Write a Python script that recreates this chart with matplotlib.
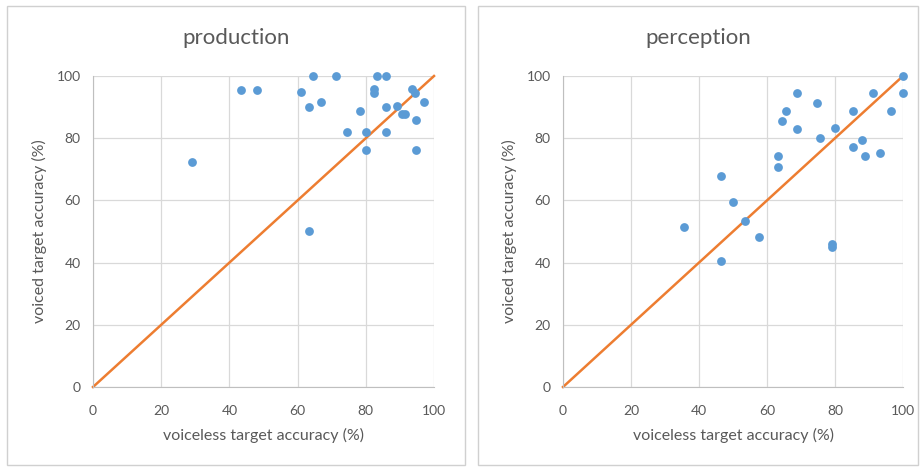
import matplotlib.pyplot as plt
from matplotlib.patches import Rectangle

# production panel: voiceless (x) vs voiced (y) accuracy, %
prod_voiceless = [64.6, 71.4, 83.4, 85.9, 43.4, 48.0, 61.0, 63.4, 66.9, 82.4,
                  82.4, 93.6, 94.4, 97.1, 78.3, 85.9, 89.2, 90.5, 91.5, 94.7,
                  74.6, 80.1, 85.8, 80.1, 94.7, 29.1, 63.4]
prod_voiced = [100, 100, 100, 100, 95.5, 95.5, 94.7, 90.1, 91.7, 95.7,
               94.4, 95.7, 94.6, 91.7, 88.8, 90.1, 90.5, 87.8, 87.8, 85.9,
               82.1, 82.1, 82.1, 76.2, 76.2, 72.4, 50.2]

# perception panel
perc_voiceless = [100, 100, 68.7, 91.1, 74.6, 65.6, 85.4, 96.5, 64.3, 68.7,
                  80.0, 75.6, 87.9, 85.4, 88.8, 93.2, 63.3, 63.3, 46.5, 49.9,
                  53.5, 35.6, 57.6, 79.0, 79.0, 46.5]
perc_voiced = [100, 94.4, 94.6, 94.6, 91.2, 88.8, 88.8, 88.8, 85.6, 82.8,
               83.2, 80.0, 79.4, 77.1, 74.4, 75.1, 74.4, 70.6, 67.8, 59.4,
               53.4, 51.5, 48.3, 46.0, 45.1, 40.5]

ticks = [0, 20, 40, 60, 80, 100]

W, H = 922, 468
BLUE = '#5B9BD5'
ORANGE = '#ED7D31'
GRID = '#D9D9D9'
TXT = '#595959'

plt.rcParams['font.family'] = ['Lato', 'DejaVu Sans']

fig = plt.figure(figsize=(W / 100, H / 100), dpi=100)


def px_box(x0, y0, x1, y1):
    # pixel box (top-left origin) -> figure fraction [l, b, w, h]
    return [x0 / W, 1 - y1 / H, (x1 - x0) / W, (y1 - y0) / H]


def draw_panel(frame, plot, title, xs, ys):
    l, b, w, h = px_box(*frame)
    fig.add_artist(Rectangle((l, b), w, h, transform=fig.transFigure,
                             fill=False, edgecolor='#D0D0D0', linewidth=1))
    ax = fig.add_axes(px_box(*plot))
    ax.set_xlim(0, 100)
    ax.set_ylim(0, 100)
    ax.set_xticks(ticks)
    ax.set_yticks(ticks)
    ax.grid(True, color=GRID, linewidth=0.9)
    ax.set_axisbelow(True)
    for side in ['top', 'right']:
        ax.spines[side].set_visible(False)
    for side in ['left', 'bottom']:
        ax.spines[side].set_color('#BFBFBF')
    ax.tick_params(length=0, labelsize=10, colors=TXT)
    ax.tick_params(axis='x', pad=13)
    ax.tick_params(axis='y', pad=9)
    ax.plot([0, 100], [0, 100], color=ORANGE, linewidth=1.8, zorder=2,
            clip_on=False)
    ax.scatter(xs, ys, s=40, color=BLUE, zorder=3, clip_on=False,
               linewidths=0)
    ax.set_xlabel('voiceless target accuracy (%)', fontsize=11.5, color=TXT,
                  labelpad=8)
    ax.set_ylabel('voiced target accuracy (%)', fontsize=11.5, color=TXT,
                  labelpad=7)
    fig.text(l + w / 2, 1 - 38 / H, title, ha='center', va='center',
             fontsize=16, color=TXT)
    return ax


draw_panel((7, 6, 465, 465), (93, 76, 434, 387), 'production',
           prod_voiceless, prod_voiced)
draw_panel((478, 6, 918, 465), (563, 76, 903, 387), 'perception',
           perc_voiceless, perc_voiced)

fig.savefig('out.png', dpi=100, facecolor='white')
